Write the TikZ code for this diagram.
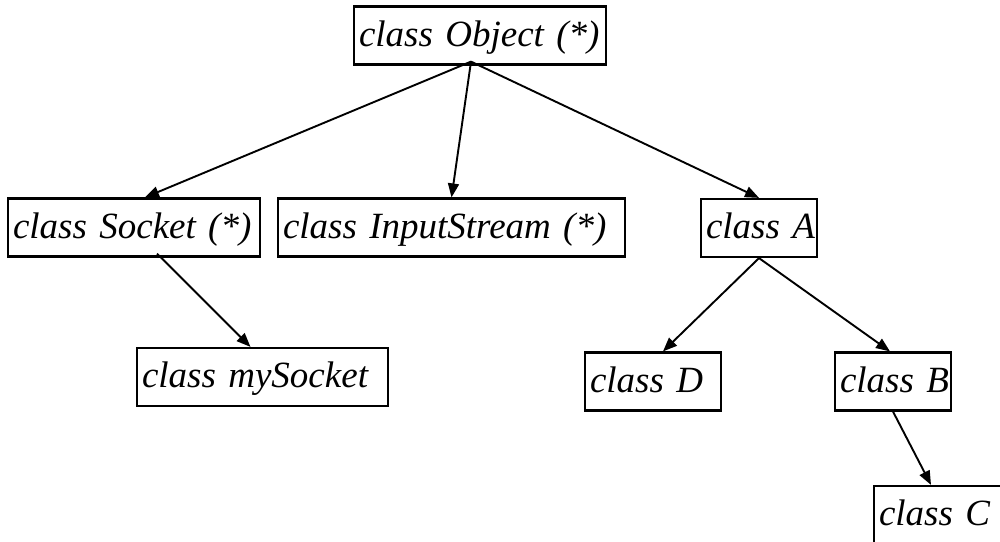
\documentclass[tikz,border=0pt]{standalone}
\usepackage{fontspec}
\setmainfont{Liberation Serif}
\usetikzlibrary{arrows.meta}
\newcommand{\cls}[1]{\mbox{#1}}
\begin{document}
\begin{tikzpicture}[x=1pt,y=-1pt,
  classbox/.style={draw, line width=2.2pt, inner xsep=5pt, inner ysep=0pt,
    minimum height=58pt, text height=30pt, text depth=9pt,
    font=\fontsize{37}{44}\selectfont\itshape, align=left},
  inherit/.style={line width=1.9pt, -{Triangle[length=14pt,width=11pt]}}]
\useasboundingbox (0,0) rectangle (1000,541);

% class boxes
\node[classbox, text width=242pt] (obj)  at (480,35.5)  {\cls{class Object (*)}};
\node[classbox, text width=242pt] (sock) at (134,227.5) {\cls{class Socket (*)}};
\node[classbox, text width=337pt] (inp)  at (451.5,227.5) {\cls{class InputStream (*)}};
\node[classbox, text width=106pt] (clA)  at (759,228)   {\cls{class A}};
\node[classbox, text width=241pt] (mys)  at (262.5,377) {\cls{class mySocket}};
\node[classbox, text width=126pt] (clD)  at (653,381.5) {\cls{class D}};
\node[classbox, text width=106pt] (clB)  at (893,381.5) {\cls{class B}};
\node[classbox, text width=130pt] (clC)  at (944,515)   {\cls{class C}};

% common origin of the arrows under Object
\coordinate (objfoot) at ([xshift=-9pt,yshift=4pt]obj.south);

% inheritance arrows
\draw[inherit] (objfoot) -- ([xshift=11pt]sock.north);
\draw[inherit] (objfoot) -- (inp.north);
\draw[inherit] (objfoot) -- (clA.north);
\draw[inherit] ([xshift=23pt,yshift=4pt]sock.south) -- ([xshift=-12pt]mys.north);
\draw[inherit] (clA.south) -- ([xshift=10pt]clD.north);
\draw[inherit] (clA.south) -- ([xshift=-3pt]clB.north);
\draw[inherit] (clB.south) -- ([xshift=-13pt]clC.north);
\end{tikzpicture}
\end{document}
